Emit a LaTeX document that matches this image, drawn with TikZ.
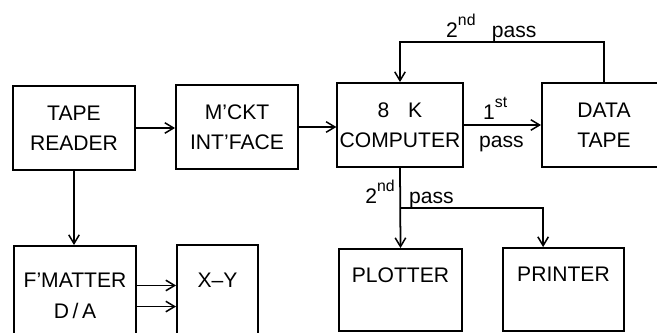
\documentclass[tikz,border=0pt]{standalone}
\usepackage{fontspec}
\setmainfont{Liberation Sans}
\usetikzlibrary{arrows.meta, positioning}
\tikzset{
  box/.style={rectangle, draw, line width=1.6pt, align=center,
              minimum width=3.66cm, minimum height=2.52cm, inner sep=2pt,
              font=\fontsize{18}{26}\selectfont},
  arrow/.style={-{Straight Barb[length=7.5pt, width=9pt, line width=1.3pt]},
                line width=1.5pt},
  lbl/.style={inner sep=0pt, font=\fontsize{18}{20}\selectfont},
}
\newcommand{\ordsup}[1]{\raisebox{0.55em}{\fontsize{13.5}{13}\selectfont #1}}

\begin{document}
\begin{tikzpicture}[x=0.03cm, y=-0.03cm]
  \useasboundingbox (0,0) rectangle (657,332);
  \clip (0,0) rectangle (657,332);

  % top row
  \node[box] (reader) at (74,128) {TAPE\\READER};
  \node[box] (mckt) at (237,127) {M'CKT\\INT'FACE};
  \node[box, minimum width=3.72cm] (comp) at (400,125) {8\hspace{16pt}K\\COMPUTER};
  \node[box, minimum width=3.72cm] (tape) at (604,125) {DATA\\TAPE};

  % bottom row (cut off by the page edge)
  \node[box, minimum height=3cm] (fmatter) at (75,296) {F'MATTER\\D\,/\,A};
  \node[box, minimum width=2.43cm, minimum height=3cm] (xy) at (217.5,295) {X--Y\\\phantom{X}};
  \node[box, minimum width=3.69cm, minimum height=2.46cm] (plotter) at (400.5,290) {PLOTTER\\\phantom{X}};
  \node[box, minimum width=3.63cm, minimum height=2.49cm] (printer) at (563.5,289.5) {PRINTER\\\phantom{X}};

  \coordinate (loop) at (500,42);
  \coordinate (split) at (400,208);

  % labels
  \node[lbl, anchor=base west] (pass2top) at (446,37) {2\ordsup{nd}\hspace{14pt}pass};
  \node[lbl, anchor=base west] (first) at (483,119) {1\ordsup{st}};
  \node[lbl, anchor=base west] (firstpass) at (479,147) {pass};
  \node[lbl, anchor=base east] (second) at (395,203) {2\ordsup{nd}};
  \node[lbl, anchor=base west] (secondpass) at (409,203) {pass};

  % connectors
  \draw[arrow] (reader.east) -- (mckt.west |- reader.east);
  \draw[arrow] (mckt.east) -- (comp.west |- mckt.east);
  \draw[arrow] (comp.east) -- (tape.west);
  \draw[arrow] (tape.north) |- (loop) -| (comp.north);
  \draw[arrow] (reader.south) -- (reader.south |- fmatter.north);
  \draw[arrow] (comp.south) -- (plotter.north);
  \draw[arrow] (split) -| ([xshift=-17.4pt]printer.north);
  \draw[arrow] ([yshift=9pt]fmatter.east) -- ([yshift=9pt]fmatter.east -| xy.west);
  \draw[arrow] ([yshift=-9pt]fmatter.east) -- ([yshift=-9pt]fmatter.east -| xy.west);
\end{tikzpicture}
\end{document}
